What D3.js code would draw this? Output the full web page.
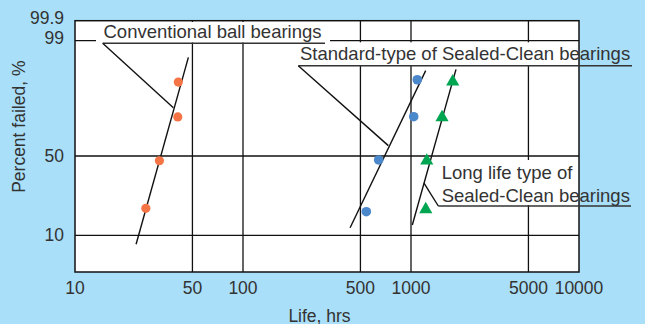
<!DOCTYPE html>
<html>
<head>
<meta charset="utf-8">
<script src="https://cdn.jsdelivr.net/npm/d3@7"></script>
<style>
  body { margin: 0; background: #a9dff9; }
  svg { display: block; font-family: "Liberation Sans", Arial, sans-serif; }
  .tick-label { font-size: 17.5px; fill: #333; }
  .note { font-size: 18.5px; fill: #333; }
</style>
</head>
<body>
<script>
// life values (hrs) and percent failed
var convLife = [26.4, 31.8, 40.9, 41.2];
var convPct = [23.6, 47.6, 66.6, 81.4];
var stdLife = [542, 642, 1038, 1090];
var stdPct = [21.9, 48.0, 66.7, 82.4];
var longLife = [1224, 1241, 1530, 1771];
var longPct = [23.1, 47.6, 66.4, 81.6];

// fitted lines: [life, pct] end points
var convFit = [[23.1, 7.8], [47.3, 91.9]];
var stdFit = [[434, 13.8], [1223, 86.3]];
var longFit = [[1018, 15.2], [1853, 86.8]];

var xTicks = [10, 50, 100, 500, 1000, 5000, 10000];
var xGrid = [50, 100, 500, 1000, 5000];
var yTicks = [99.9, 99, 50, 10];
var yGrid = [99, 50, 10];

var width = 645, height = 324;
var plot = {left: 75, right: 579, top: 20.7, bottom: 272};

var svg = d3.select("body").append("svg")
    .attr("width", width)
    .attr("height", height);

var x = d3.scaleLog()
    .domain([10, 10000])
    .range([plot.left, plot.right]);

// probability paper, piecewise
var y = d3.scaleLinear()
    .domain([1, 10, 50, 99, 99.9])
    .range([plot.bottom, 235.3, 156, 40.7, plot.top]);

// plot background
svg.append("rect")
    .attr("x", plot.left).attr("y", plot.top)
    .attr("width", plot.right - plot.left)
    .attr("height", plot.bottom - plot.top)
    .attr("fill", "#fff");

// grid
svg.selectAll(".vgrid").data(xGrid).enter().append("line")
    .attr("x1", function(d) { return x(d); })
    .attr("x2", function(d) { return x(d); })
    .attr("y1", plot.top).attr("y2", plot.bottom)
    .attr("stroke", "#111").attr("stroke-width", 1.3);
svg.selectAll(".hgrid").data(yGrid).enter().append("line")
    .attr("y1", function(d) { return y(d); })
    .attr("y2", function(d) { return y(d); })
    .attr("x1", plot.left).attr("x2", plot.right)
    .attr("stroke", "#111").attr("stroke-width", 1.3);

// white boxes behind the notes (inside plot only)
svg.append("rect").attr("x", 96).attr("y", 22).attr("width", 234).attr("height", 20.5).attr("fill", "#fff");
svg.append("rect").attr("x", 298).attr("y", 42.3).attr("width", plot.right - 298).attr("height", 23).attr("fill", "#fff");
svg.append("rect").attr("x", 436).attr("y", 160).attr("width", plot.right - 436).attr("height", 45).attr("fill", "#fff");

// frame
svg.append("rect")
    .attr("x", plot.left).attr("y", plot.top)
    .attr("width", plot.right - plot.left)
    .attr("height", plot.bottom - plot.top)
    .attr("fill", "none")
    .attr("stroke", "#111").attr("stroke-width", 1.5);

// tick labels
svg.selectAll(".xt").data(xTicks).enter().append("text")
    .attr("class", "tick-label")
    .attr("x", function(d) { return x(d); })
    .attr("y", 294)
    .attr("text-anchor", "middle")
    .text(function(d) { return d; });

var yShift = {"99.9": -2.5, "99": -2.5, "50": 0, "10": 0};
svg.selectAll(".yt").data(yTicks).enter().append("text")
    .attr("class", "tick-label")
    .attr("x", 64)
    .attr("y", function(d) { return y(d) + 6 + yShift[d]; })
    .attr("text-anchor", "end")
    .text(function(d) { return d; });

// axis titles
svg.append("text")
    .attr("class", "tick-label")
    .attr("x", 319.5).attr("y", 321.5)
    .attr("text-anchor", "middle")
    .text("Life, hrs");
svg.append("text")
    .attr("class", "tick-label")
    .attr("transform", "translate(24.5,126.7) rotate(-90)")
    .attr("text-anchor", "middle")
    .text("Percent failed, %");

// fit lines
var line = d3.line()
    .x(function(d) { return x(d[0]); })
    .y(function(d) { return y(d[1]); });
[convFit, stdFit, longFit].forEach(function(f) {
    svg.append("path")
        .attr("d", line(f))
        .attr("fill", "none")
        .attr("stroke", "#111").attr("stroke-width", 1.4);
});

// notes: label, underline, leader
function note(lines, tx, ty, ux1, ux2, uy, target) {
    lines.forEach(function(s, i) {
        svg.append("text").attr("class", "note")
            .attr("x", tx).attr("y", ty + i * 22.7)
            .text(s);
    });
    svg.append("line")
        .attr("x1", ux1).attr("x2", ux2).attr("y1", uy).attr("y2", uy)
        .attr("stroke", "#333").attr("stroke-width", 1.6);
    svg.append("line")
        .attr("x1", ux1).attr("y1", uy)
        .attr("x2", x(target[0])).attr("y2", y(target[1]))
        .attr("stroke", "#111").attr("stroke-width", 1.4);
}
note(["Conventional ball bearings"], 103.5, 38, 102.7, 325, 43.3, [38.5, 70.5]);
note(["Standard-type of Sealed-Clean bearings"], 300, 60.3, 298.3, 632, 65.7, [733, 54.4]);
note(["Long life type of", "Sealed-Clean bearings"], 441.7, 179, 438.3, 631, 206, [1195, 36.3]);

// points
svg.selectAll(".conv").data(convLife).enter().append("circle")
    .attr("cx", function(d) { return x(d); })
    .attr("cy", function(d, i) { return y(convPct[i]); })
    .attr("r", 4.6)
    .attr("fill", "#f47445");
svg.selectAll(".std").data(stdLife).enter().append("circle")
    .attr("cx", function(d) { return x(d); })
    .attr("cy", function(d, i) { return y(stdPct[i]); })
    .attr("r", 4.8)
    .attr("fill", "#4b87cb");
svg.selectAll(".long").data(longLife).enter().append("path")
    .attr("d", d3.symbol().type(d3.symbolTriangle).size(75))
    .attr("transform", function(d, i) { return "translate(" + x(d) + "," + y(longPct[i]) + ")"; })
    .attr("fill", "#00a551");
</script>
</body>
</html>
